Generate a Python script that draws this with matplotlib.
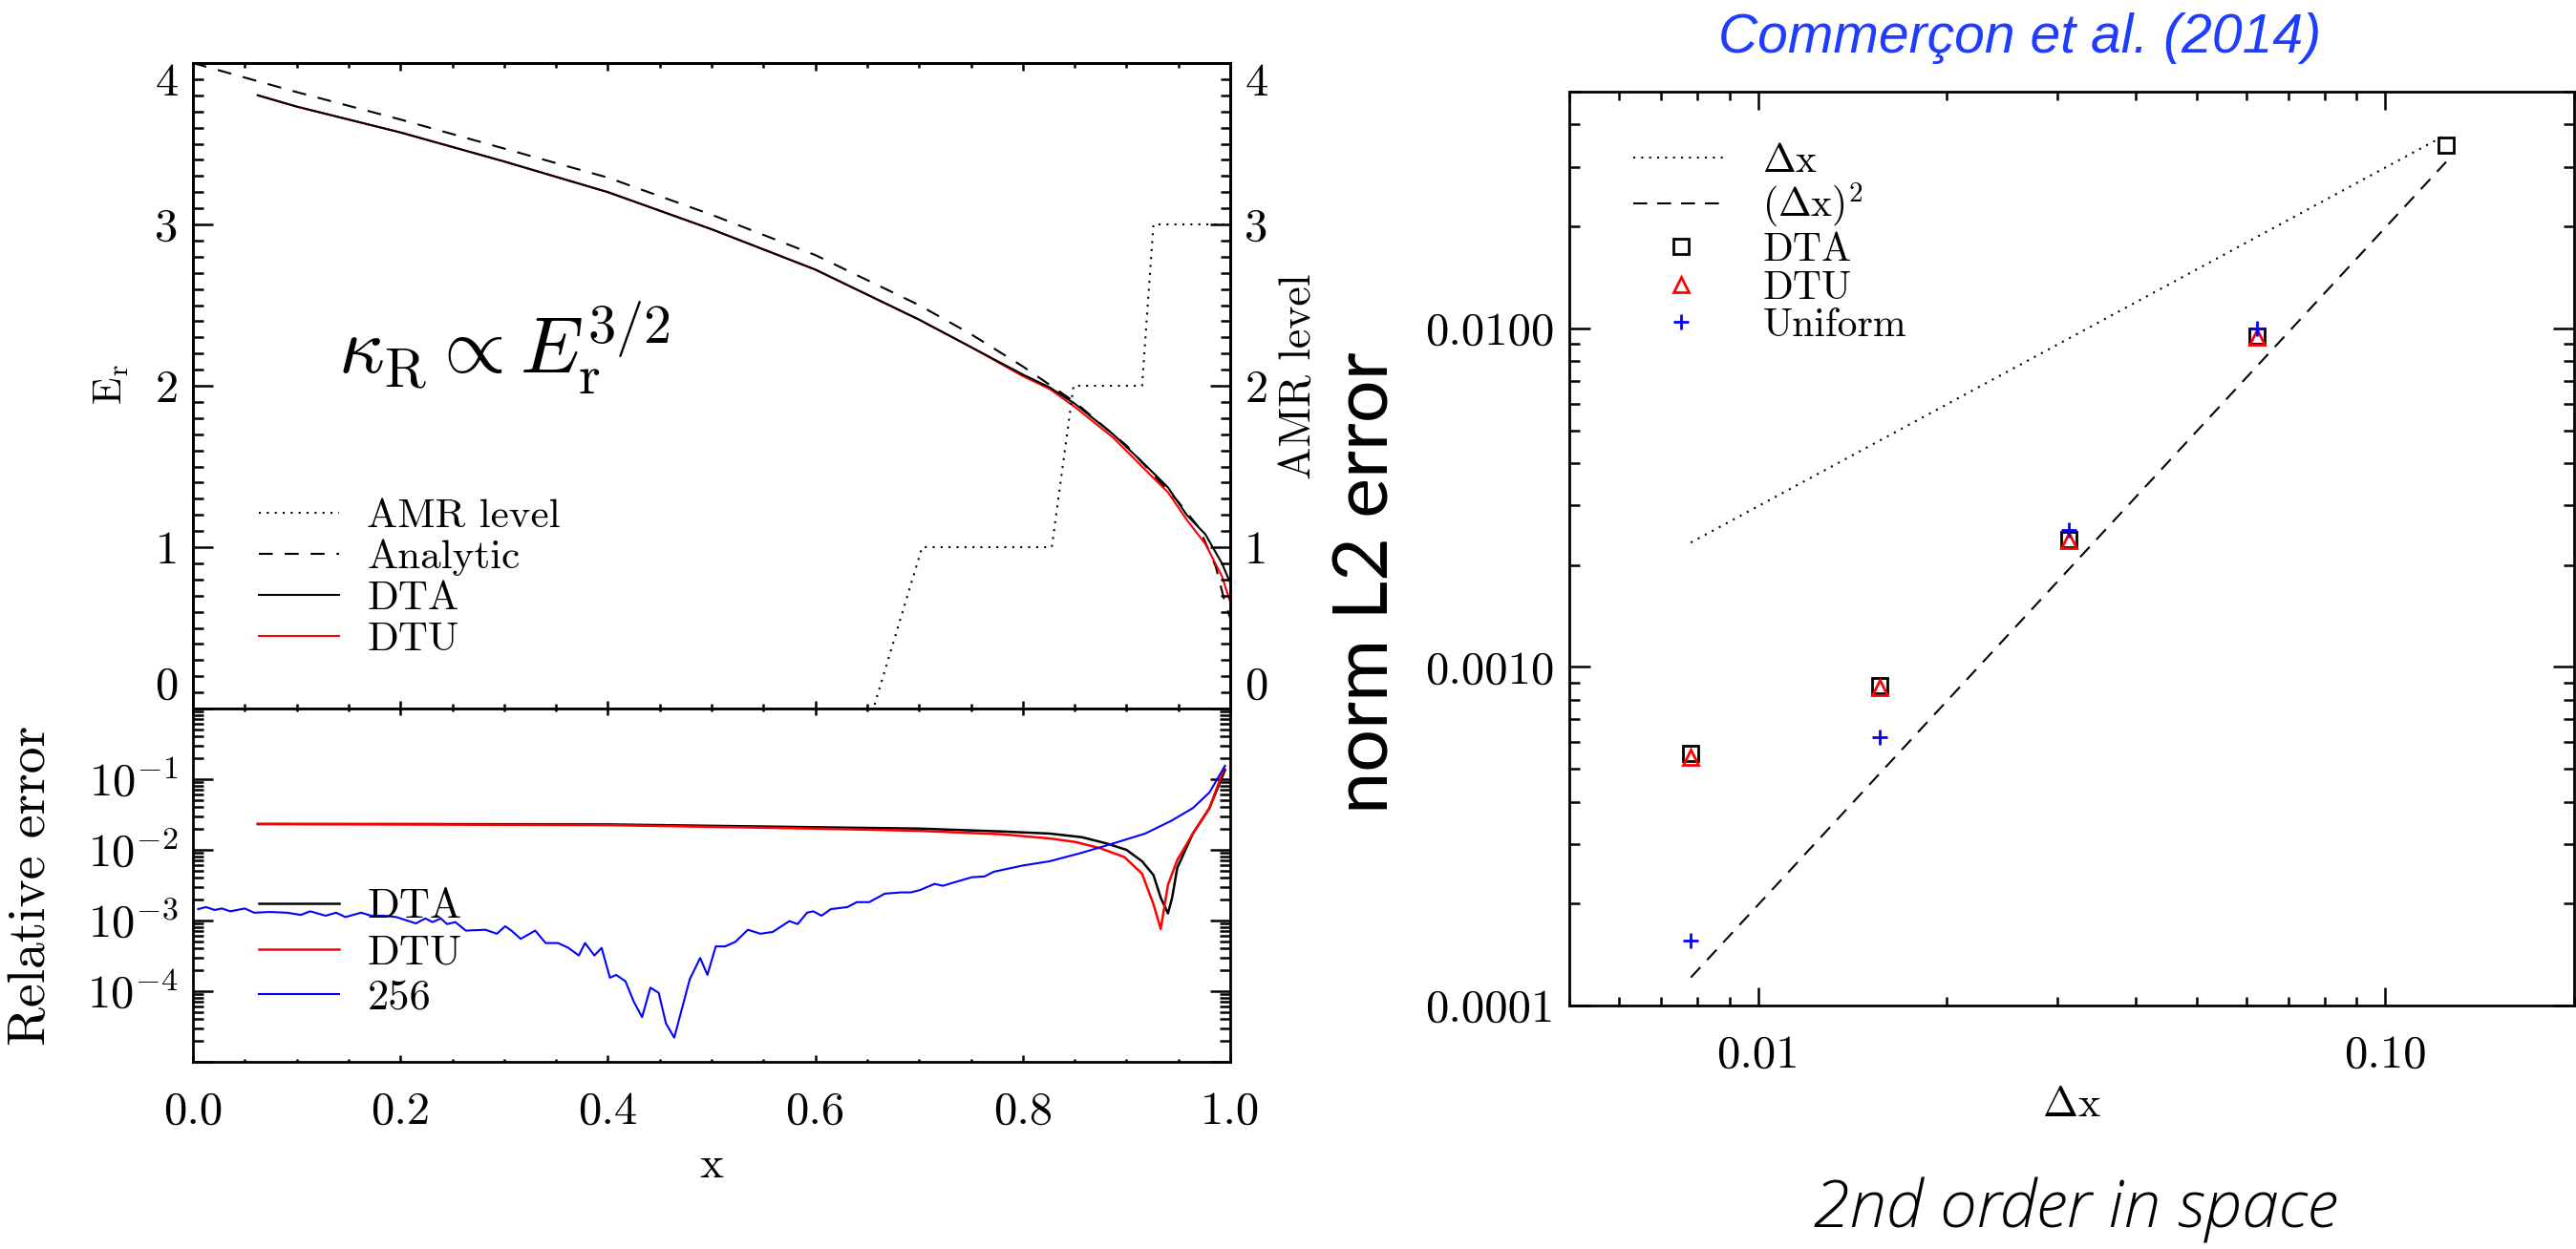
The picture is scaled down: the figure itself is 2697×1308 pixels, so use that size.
import numpy as np
import matplotlib
matplotlib.use("Agg")
import matplotlib.pyplot as plt
from matplotlib.ticker import FixedLocator, MultipleLocator, LogLocator, FixedFormatter, NullFormatter, FuncFormatter

plt.rcParams['mathtext.fontset'] = 'cm'
plt.rcParams['font.family'] = 'cmr10'
plt.rcParams['axes.linewidth'] = 2.0
plt.rcParams['axes.unicode_minus'] = False

# --- top left: radiative energy profile ---
x_an = [0.0, 0.05, 0.1, 0.2, 0.3, 0.4, 0.5, 0.6, 0.7, 0.75, 0.8, 0.85, 0.9, 0.95, 0.97, 0.986, 0.994, 1.0]
e_an = [4.0, 3.91, 3.82, 3.65, 3.47, 3.29, 3.06, 2.81, 2.50, 2.32, 2.12, 1.90, 1.63, 1.28, 1.12, 0.88, 0.68, 0.56]

x_num = [0.0625, 0.1, 0.2, 0.3, 0.4, 0.5, 0.6, 0.7, 0.75, 0.8, 0.826, 0.85, 0.887, 0.918, 0.94, 0.958, 0.976, 0.992, 1.0]
e_dta = [3.80, 3.73, 3.57, 3.39, 3.20, 2.97, 2.72, 2.41, 2.24, 2.07, 1.99, 1.89, 1.70, 1.51, 1.37, 1.20, 1.08, 0.90, 0.78]
e_dtu = [3.80, 3.73, 3.57, 3.39, 3.20, 2.97, 2.72, 2.41, 2.24, 2.06, 1.98, 1.87, 1.68, 1.48, 1.34, 1.17, 1.02, 0.82, 0.66]

x_amr = [0.0, 0.656, 0.703, 0.828, 0.849, 0.915, 0.926, 1.0]
amr_level = [0, 0, 1, 1, 2, 2, 3, 3]

# --- bottom left: relative error ---
x_err_dta = [0.0625, 0.2, 0.4, 0.6, 0.7, 0.78, 0.826, 0.857, 0.881, 0.9, 0.915, 0.926, 0.933, 0.94, 0.944, 0.949, 0.964, 0.98, 0.995]
err_dta = [0.0232, 0.0232, 0.0229, 0.0209, 0.0200, 0.0182, 0.0170, 0.0151, 0.0123, 0.0100, 0.0069, 0.0044, 0.0021, 0.00126,
           0.0021, 0.0056, 0.0170, 0.039, 0.135]
x_err_dtu = [0.0625, 0.2, 0.4, 0.6, 0.7, 0.78, 0.826, 0.851, 0.875, 0.898, 0.915, 0.926, 0.933, 0.94, 0.949, 0.964, 0.98, 0.994]
err_dtu = [0.0232, 0.0229, 0.0224, 0.0200, 0.0186, 0.0166, 0.0145, 0.0129, 0.0105, 0.0079, 0.0046, 0.0017, 0.00076,
           0.0032, 0.0072, 0.0170, 0.039, 0.141]

x_256 = [0.005, 0.0125, 0.021, 0.028, 0.036, 0.050, 0.059, 0.074, 0.091, 0.104, 0.113, 0.128, 0.138, 0.147, 0.162,
         0.172, 0.184, 0.196, 0.215, 0.224, 0.231, 0.239, 0.245, 0.253, 0.263, 0.282, 0.293, 0.301, 0.307, 0.316,
         0.330, 0.340, 0.352, 0.362, 0.372, 0.378, 0.387, 0.394, 0.402, 0.408, 0.417, 0.425, 0.433, 0.441, 0.449,
         0.456, 0.464, 0.479, 0.489, 0.496, 0.504, 0.513, 0.523, 0.535, 0.547, 0.559, 0.575, 0.583, 0.592, 0.598,
         0.606, 0.615, 0.631, 0.640, 0.652, 0.667, 0.683, 0.692, 0.701, 0.715, 0.723, 0.732, 0.751, 0.763, 0.772,
         0.80, 0.826, 0.857, 0.887, 0.918, 0.943, 0.964, 0.980, 0.995]
err_256 = [1.45e-3, 1.55e-3, 1.41e-3, 1.48e-3, 1.35e-3, 1.48e-3, 1.29e-3, 1.32e-3, 1.29e-3, 1.20e-3, 1.35e-3, 1.17e-3,
           1.29e-3, 1.12e-3, 1.29e-3, 1.17e-3, 1.17e-3, 1.12e-3, 9.1e-4, 1.07e-3, 9.5e-4, 1.07e-3, 8.9e-4, 9.5e-4,
           7.2e-4, 7.4e-4, 6.5e-4, 8.3e-4, 7.2e-4, 5.5e-4, 7.2e-4, 4.8e-4, 4.8e-4, 4.1e-4, 3.2e-4, 4.8e-4, 3.2e-4,
           4.1e-4, 1.55e-4, 1.70e-4, 1.38e-4, 7.1e-5, 4.3e-5, 1.12e-4, 9.5e-5, 3.5e-5, 2.2e-5, 1.48e-4, 2.95e-4,
           1.70e-4, 4.3e-4, 4.3e-4, 5.0e-4, 7.4e-4, 6.5e-4, 6.9e-4, 9.8e-4, 8.9e-4, 1.29e-3, 1.35e-3, 1.17e-3,
           1.45e-3, 1.55e-3, 1.82e-3, 1.82e-3, 2.4e-3, 2.5e-3, 2.5e-3, 2.7e-3, 3.3e-3, 3.1e-3, 3.4e-3, 4.1e-3,
           4.2e-3, 4.9e-3, 6.0e-3, 6.9e-3, 9.1e-3, 1.23e-2, 1.70e-2, 2.57e-2, 3.9e-2, 6.5e-2, 0.155]

# --- right: convergence ---
dx_dta = [0.125, 0.0625, 0.03125, 0.015625, 0.0078125]
l2_dta = [0.0348, 0.0095, 0.00238, 0.00088, 0.000555]
dx_dtu = [0.0625, 0.03125, 0.015625, 0.0078125]
l2_dtu = [0.0094, 0.00237, 0.00087, 0.00054]
dx_uni = [0.0625, 0.03125, 0.015625, 0.0078125]
l2_uni = [0.0100, 0.00253, 0.000622, 0.000156]
dx_ref = [0.0078125, 0.125]
ref_first = [0.00233, 0.0373]
ref_second = [0.000121, 0.031]

W, H = 2697, 1308
fig = plt.figure(figsize=(W / 100, H / 100), dpi=100)


def box(x0, y0, x1, y1):
    return [x0 / W, 1 - y1 / H, (x1 - x0) / W, (y1 - y0) / H]


dotted = (0, (1, 3))
TW = 1.8
LAB = 35

# top panel
ax1 = fig.add_axes(box(202, 66, 1288, 742))
l_an, = ax1.plot(x_an, e_an, color='k', lw=1.5, dashes=(7, 6))
l_dtu, = ax1.plot(x_num, e_dtu, color='red', lw=1.5)
l_dta, = ax1.plot(x_num, e_dta, color='k', lw=1.5)
ax1.set_xlim(0, 1)
ax1.set_ylim(0, 4)
ax1.xaxis.set_major_locator(MultipleLocator(0.2))
ax1.xaxis.set_minor_locator(MultipleLocator(0.05))
ax1.yaxis.set_major_locator(FixedLocator([0, 1, 2, 3, 4]))
ax1.yaxis.set_minor_locator(MultipleLocator(0.1))
ax1.yaxis.set_major_formatter(FixedFormatter(['0', '1', '2', '3', '4']))
ax1.tick_params(axis='x', which='both', direction='in', top=True, bottom=True, labelbottom=False, width=TW)
ax1.tick_params(axis='x', which='major', length=6)
ax1.tick_params(axis='x', which='minor', length=3.5)
ax1.tick_params(axis='y', which='both', direction='in', width=TW, labelsize=LAB, pad=11)
ax1.tick_params(axis='y', which='major', length=15)
ax1.tick_params(axis='y', which='minor', length=8)

ax1r = ax1.twinx()
l_amr, = ax1r.plot(x_amr, amr_level, color='k', lw=1.5, ls=dotted)
ax1r.set_ylim(0, 4)
ax1r.yaxis.set_major_locator(FixedLocator([0, 1, 2, 3, 4]))
ax1r.yaxis.set_minor_locator(MultipleLocator(0.1))
ax1r.yaxis.set_major_formatter(FixedFormatter(['0', '1', '2', '3', '4']))
ax1r.tick_params(axis='y', which='both', direction='in', width=TW, labelsize=LAB, pad=11)
ax1r.tick_params(axis='y', which='major', length=15)
ax1r.tick_params(axis='y', which='minor', length=7)

for a in (ax1, ax1r):
    tk = a.yaxis.get_major_ticks()
    tk[0].label1.set_va('bottom')
    tk[0].label2.set_va('bottom')
    tk[-1].label1.set_va('top')
    tk[-1].label2.set_va('top')

ax1r.legend([l_amr, l_an, l_dta, l_dtu], ['AMR level', 'Analytic', 'DTA', 'DTU'],
            loc='upper left', bbox_to_anchor=(0.0635, 0.326), frameon=False,
            prop={'family': 'cmr10', 'size': 31}, handlelength=1.95, handletextpad=0.68,
            labelspacing=0.11, borderpad=0, borderaxespad=0)

# bottom panel
ax2 = fig.add_axes(box(202, 742, 1288, 1112))
h1, = ax2.plot(x_err_dta, err_dta, color='k', lw=1.8)
h2, = ax2.plot(x_err_dtu, err_dtu, color='red', lw=1.8)
h3, = ax2.plot(x_256, err_256, color='blue', lw=1.5)
ax2.set_yscale('log')
ax2.set_xlim(0, 1)
ax2.set_ylim(1e-5, 1)
ax2.xaxis.set_major_locator(MultipleLocator(0.2))
ax2.xaxis.set_minor_locator(MultipleLocator(0.05))
ax2.xaxis.set_major_formatter(FuncFormatter(lambda v, p: '%.1f' % v))
ax2.yaxis.set_major_locator(FixedLocator([1e-5, 1e-4, 1e-3, 1e-2, 1e-1, 1]))
ax2.yaxis.set_minor_locator(LogLocator(base=10, subs=np.arange(2, 10), numticks=20))
ax2.yaxis.set_minor_formatter(NullFormatter())
ax2.yaxis.set_major_formatter(FixedFormatter(['', r'$10^{-4}$', r'$10^{-3}$', r'$10^{-2}$', r'$10^{-1}$', '']))
ax2.tick_params(axis='x', which='both', direction='in', top=True, bottom=True, width=TW, labelsize=LAB, pad=22)
ax2.tick_params(axis='x', which='major', length=5)
ax2.tick_params(axis='x', which='minor', length=2.5)
ax2.tick_params(axis='y', which='both', direction='in', left=True, right=True, width=TW, labelsize=LAB, pad=11)
ax2.tick_params(axis='y', which='major', length=15)
ax2.tick_params(axis='y', which='minor', length=8)
ax2.legend([h1, h2, h3], ['DTA', 'DTU', '256'], loc='upper left', bbox_to_anchor=(0.0635, 0.491),
           frameon=False, prop={'family': 'cmr10', 'size': 32}, handlelength=1.9, handletextpad=0.66,
           labelspacing=0.17, borderpad=0, borderaxespad=0)

# right panel
ax3 = fig.add_axes(box(1643, 96, 2695, 1053))
ax3.set_xscale('log')
ax3.set_yscale('log')
r1, = ax3.plot(dx_ref, ref_first, color='k', lw=1.5, ls=dotted)
r2, = ax3.plot(dx_ref, ref_second, color='k', lw=1.5, dashes=(7, 5))
m1, = ax3.plot(dx_dta, l2_dta, ls='none', marker='s', ms=12, mfc='none', mec='k', mew=2)
m2, = ax3.plot(dx_dtu, l2_dtu, ls='none', marker='^', ms=12, mfc='none', mec='red', mew=2)
m3, = ax3.plot(dx_uni, l2_uni, ls='none', marker='+', ms=12, mec='blue', mew=2)
ax3.set_xlim(0.005, 0.2)
ax3.set_ylim(1e-4, 0.05)
ax3.xaxis.set_major_locator(FixedLocator([0.01, 0.1]))
ax3.xaxis.set_major_formatter(FixedFormatter(['0.01', '0.10']))
ax3.xaxis.set_minor_locator(LogLocator(base=10, subs=np.arange(2, 10), numticks=20))
ax3.xaxis.set_minor_formatter(NullFormatter())
ax3.yaxis.set_major_locator(FixedLocator([1e-4, 1e-3, 1e-2]))
ax3.yaxis.set_major_formatter(FixedFormatter(['0.0001', '0.0010', '0.0100']))
ax3.yaxis.set_minor_locator(LogLocator(base=10, subs=np.arange(2, 10), numticks=20))
ax3.yaxis.set_minor_formatter(NullFormatter())
ax3.tick_params(axis='x', which='both', direction='in', top=True, bottom=True, width=TW, labelsize=LAB, pad=22)
ax3.tick_params(axis='x', which='major', length=13.5)
ax3.tick_params(axis='x', which='minor', length=6.5)
ax3.tick_params(axis='y', which='both', direction='in', left=True, right=True, width=TW, labelsize=LAB, pad=11)
ax3.tick_params(axis='y', which='major', length=16)
ax3.tick_params(axis='y', which='minor', length=8)
ax3.legend([r1, r2, m1, m2, m3], [r'$\Delta\mathrm{x}$', r'$(\Delta\mathrm{x})^2$', 'DTA', 'DTU', 'Uniform'],
           loc='upper left', bbox_to_anchor=(0.0637, 0.943), frameon=False,
           prop={'family': 'cmr10', 'size': 30}, handlelength=2.4, handletextpad=0.85,
           labelspacing=0.05, borderpad=0, borderaxespad=0)

# labels and annotations
fig.text(117 / W, 1 - 403 / H, r'$\mathrm{E_r}$', rotation=90, ha='center', va='center', fontsize=30)
fig.text(33 / W, 1 - 927 / H, 'Relative error', rotation=90, ha='center', va='center', fontsize=40)
fig.text(745 / W, 1 - 1221 / H, 'x', ha='center', va='center', fontsize=34)
fig.text(1360 / W, 1 - 394 / H, 'AMR level', rotation=90, ha='center', va='center', fontsize=33)
fig.text(354 / W, 1 - 392 / H, r'$\kappa_{\rm R} \propto E_{\rm r}^{3/2}$', ha='left', va='baseline', fontsize=60)
fig.text(1432 / W, 1 - 610 / H, 'norm L2 error', rotation=90, ha='center', va='center',
         family='Lato', fontsize=57)
fig.text(2169 / W, 1 - 1158 / H, r'$\Delta\mathrm{x}$', ha='center', va='center', fontsize=32)
fig.text(2173 / W, 1 - 1267 / H, '2nd order in space', ha='center', va='center', family='Open Sans',
         fontweight='light', style='italic', fontsize=50, color='black')
fig.text(2115 / W, 1 - 40 / H, 'Commerçon et al. (2014)', ha='center', va='center',
         family='Liberation Sans', style='italic', fontsize=41, color='#1f3dff')

fig.savefig('out.png', dpi=100)
